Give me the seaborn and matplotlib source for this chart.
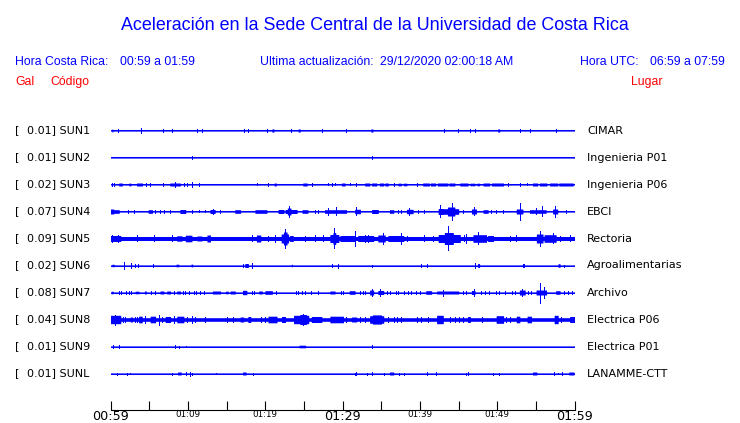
import numpy as np
import pandas as pd
import matplotlib
matplotlib.use("Agg")
import matplotlib.pyplot as plt
import seaborn as sns

# ---------------- data ----------------
codes = ["SUN1", "SUN2", "SUN3", "SUN4", "SUN5", "SUN6", "SUN7", "SUN8", "SUN9", "SUNL"]
gal = ["0.01", "0.01", "0.02", "0.07", "0.09", "0.02", "0.08", "0.04", "0.01", "0.01"]
places = ["CIMAR", "Ingenieria P01", "Ingenieria P06", "EBCI", "Rectoria",
          "Agroalimentarias", "Archivo", "Electrica P06", "Electrica P01", "LANAMME-CTT"]
tick_minutes = [0, 5, 10, 15, 20, 25, 30, 35, 40, 45, 50, 55, 60]
tick_labels = ["00:59", "", "01:09", "", "01:19", "", "01:29", "", "01:39", "", "01:49", "", "01:59"]
big_labels = ["00:59", "01:29", "01:59"]

# background trace amplitude (half-height) per station
base_amp = [0.6, 0.6, 0.6, 0.6, 2.0, 0.6, 0.6, 1.8, 0.6, 0.6]

# bursts: (start minute, end minute, half amplitude)
ev_sun1 = [(0.2,0.3,1.4),(1.0,1.0,1.4),(4.0,4.0,2.6),(6.8,6.8,1.6),(8.0,8.0,1.6),(11.2,11.2,1.6),
           (11.8,11.8,1.2),(17.2,17.2,1.2),(17.8,17.8,1.2),(20.3,20.3,1.4),(20.9,21.1,1.6),(23.4,23.4,1.2),
           (24.3,24.5,1.6),(27.3,27.3,1.6),(30.5,30.5,1.2),(33.7,33.9,1.6),(43.1,43.1,1.6),(44.9,44.9,1.6),
           (46.5,46.5,1.4),(47.1,47.1,1.4),(50.1,50.3,1.6),(52.9,52.9,1.6),(54.3,54.3,1.6),(57.6,57.6,1.6)]
ev_sun2 = [(10.5,10.5,1.6),(33.8,33.8,1.4)]
ev_sun3 = [(0.2,0.2,1.2),(0.5,0.5,1.2),(1.1,1.5,1.5),(2.4,2.6,1.4),(3.4,4.1,1.5),(4.6,4.6,1.2),(5.1,5.1,1.2),
           (6.8,6.8,1.2),(7.7,9.0,1.5),(8.4,8.4,2.8),(9.5,9.5,1.2),(9.9,9.9,1.2),(10.5,10.5,2.2),(11.4,11.4,1.2),
           (18.9,18.9,1.0),(20.4,20.4,1.2),(21.2,21.4,1.5),(24.9,25.4,1.5),(26.0,26.0,1.2),(28.1,28.1,1.0),
           (28.6,28.6,1.2),(29.0,29.0,1.0),(29.9,30.3,1.5),(31.0,31.0,1.0),(31.8,31.8,1.2),(32.9,33.5,1.5),
           (33.8,34.4,1.5),(34.8,35.3,1.5),(35.5,35.9,1.5),(36.6,36.6,1.5),(37.2,37.6,1.3),(37.9,38.3,1.3),
           (39.6,39.6,1.2),(40.4,41.2,1.5),(41.4,42.0,1.5),(42.3,43.6,1.5),(43.8,44.5,1.5),(45.2,46.2,1.5),
           (46.5,47.1,1.3),(47.4,47.7,1.3),(48.2,49.0,1.5),(49.3,50.8,1.5),(51.4,51.4,1.2),(52.9,52.9,1.5),
           (53.8,53.8,1.0),(54.6,55.2,1.5),(55.5,56.4,1.5),(56.8,57.8,1.5),(58.0,59.8,1.5)]
ev_sun4 = [(0.0,0.4,2.5),(0.4,1.1,1.8),(2.2,2.2,1.3),(3.1,3.1,1.3),(4.9,5.4,1.8),(5.7,5.7,1.3),(6.45,6.45,1.3),
           (6.9,6.9,1.3),(7.74,7.74,1.5),(9.0,9.7,2.0),(10.6,10.6,1.2),(11.5,11.5,1.0),(12.25,12.25,1.0),
           (12.9,13.5,2.0),(13.2,13.2,2.8),(14.2,14.2,1.3),(16.1,16.8,1.8),(18.7,20.2,1.8),(21.7,22.4,2.0),
           (22.6,24.1,2.0),(22.9,23.3,3.5),(23.1,23.1,5.8),(24.8,25.5,1.8),(26.4,26.4,1.3),(26.8,26.8,1.3),
           (27.7,29.9,1.8),(28.1,28.1,3.7),(29.2,29.2,4.0),(29.9,30.5,1.8),(31.6,32.3,2.2),(31.8,31.8,4.0),
           (33.8,34.6,2.0),(36.1,36.6,1.8),(37.2,37.2,1.3),(37.6,37.6,1.3),(38.3,39.1,2.2),(38.6,38.6,3.7),
           (39.7,39.7,1.3),(40.6,40.6,1.3),(42.4,43.0,3.0),(42.6,42.6,6.0),(43.0,45.0,2.8),(43.6,44.5,4.5),
           (44.1,44.1,8.3),(45.6,45.6,1.3),(46.7,47.3,2.5),(47.0,47.0,4.0),(48.2,48.8,1.8),(49.2,49.2,1.3),
           (49.9,49.9,1.3),(50.8,50.8,1.3),(52.5,53.3,2.5),(52.9,52.9,8.3),(54.2,56.3,1.8),(55.0,55.0,3.0),
           (55.8,55.8,5.0),(57.2,57.8,2.5),(57.5,57.5,5.7),(58.9,58.9,1.3)]
ev_sun5 = [(0.0,1.3,3.0),(0.2,0.2,3.7),(1.0,1.0,3.7),(3.4,3.4,3.0),(5.6,5.6,3.0),(7.95,7.95,3.0),
           (8.6,9.2,2.7),(9.7,10.5,3.3),(11.2,11.8,2.5),(12.5,12.9,3.5),(18.3,18.3,3.0),(18.9,19.4,3.5),
           (20.4,20.4,2.5),(21.3,21.3,3.5),(22.1,23.0,4.5),(22.4,22.8,6.5),(22.6,22.6,9.3),(23.2,23.6,3.0),
           (25.2,25.2,2.5),(26.4,26.4,3.0),(27.5,27.5,3.0),(28.4,29.5,4.0),(28.8,29.1,6.0),(28.9,28.9,10.0),
           (29.7,31.6,3.0),(31.6,31.6,7.5),(32.0,34.0,3.0),(32.9,32.9,3.8),(33.3,33.3,3.8),(34.6,35.5,3.5),
           (35.3,35.3,5.5),(35.9,37.9,3.0),(37.5,37.5,5.5),(38.3,38.3,2.5),(40.6,40.6,3.0),(41.7,41.7,2.5),
           (42.4,43.2,4.0),(43.2,44.3,6.0),(43.7,43.7,12.0),(44.3,45.2,4.0),(45.7,45.7,3.0),(46.0,46.0,4.5),
           (46.9,48.6,3.8),(47.5,47.5,6.0),(48.8,49.5,3.0),(51.6,51.6,2.5),(52.4,52.4,3.0),(55.1,55.9,4.5),
           (55.6,55.6,7.5),(56.1,57.6,3.8),(57.2,57.2,5.0),(58.1,58.1,2.5),(59.4,59.4,3.0)]
ev_sun6 = [(0.2,0.45,1.2),(1.7,1.7,3.3),(2.6,2.6,2.5),(3.2,3.2,1.5),(3.5,3.5,1.2),(5.5,5.5,1.2),
           (8.5,8.8,1.3),(10.45,10.6,1.4),(17.1,17.1,1.3),(17.4,17.8,2.0),(18.3,18.3,2.8),(23.4,23.5,1.2),
           (28.6,28.6,1.5),(29.4,29.4,2.0),(33.8,33.8,1.0),(40.1,40.1,1.3),(40.9,40.9,1.3),(47.1,47.1,2.5),
           (47.5,47.7,2.0),(53.3,53.5,2.0),(57.9,58.1,1.8),(58.6,58.6,1.0)]
ev_sun7 = [(0.13,0.3,1.3),(1.08,1.08,1.3),(1.42,1.42,1.3),(2.06,2.06,1.3),(2.37,2.37,1.3),(2.71,2.71,1.3),
           (3.23,3.66,1.3),(4.43,4.6,1.5),(5.25,5.25,1.3),(5.8,5.8,1.3),(6.45,6.88,1.5),(7.31,7.74,1.5),
           (8.17,8.17,1.3),(8.6,9.03,1.5),(9.38,9.38,1.3),(9.68,9.68,1.3),(10.1,10.1,1.3),(10.75,10.75,1.3),
           (11.05,11.05,1.3),(11.6,11.6,1.3),(12.1,12.1,1.3),(13.2,14.2,1.5),(14.9,15.2,1.3),(15.5,16.1,1.5),
           (17.1,17.6,2.2),(18.3,18.3,1.3),(18.6,18.6,1.3),(19.2,19.6,1.5),(20.0,20.9,1.8),(21.4,21.4,1.3),
           (24.0,24.0,1.3),(24.3,24.3,1.3),(24.8,24.8,1.3),(25.2,25.2,1.3),(25.9,25.9,1.3),(26.8,26.8,1.3),
           (28.4,29.0,1.5),(29.8,29.8,1.3),(30.1,30.1,1.3),(30.9,31.6,1.8),(32.3,32.3,1.3),(32.7,32.7,1.3),
           (32.9,32.9,1.3),(33.55,34.0,2.5),(33.8,33.8,3.5),(34.6,35.3,2.0),(34.9,34.9,3.5),(35.7,35.7,1.3),
           (36.1,36.1,1.3),(36.9,36.9,1.3),(37.2,37.2,1.3),(37.9,37.9,1.3),(38.5,38.5,1.3),(38.9,38.9,1.3),
           (39.5,39.5,1.3),(40.0,40.0,1.3),(40.8,41.5,1.8),(42.2,45.0,1.5),(43.0,43.0,3.0),(45.6,45.6,1.3),
           (46.0,46.0,1.3),(46.7,47.1,2.0),(47.0,47.0,3.3),(47.96,47.96,1.3),(48.4,48.4,1.3),(49.0,49.0,1.3),
           (49.9,49.9,1.3),(50.3,50.3,1.3),(51.0,51.0,1.3),(51.96,51.96,1.3),(52.3,52.3,1.3),(52.9,53.6,2.5),
           (53.25,53.25,3.5),(54.0,54.0,1.3),(54.4,54.4,1.3),(55.06,55.7,2.5),(55.5,55.5,10.0),(55.7,56.35,2.5),
           (56.1,56.1,5.8),(57.6,58.1,1.8),(58.6,58.6,1.3),(59.2,59.2,1.3),(59.7,59.7,1.3)]
ev_sun8 = [(0.0,1.29,4.2),(0.64,0.64,5.0),(1.59,1.59,2.5),(1.85,1.85,2.5),(2.58,2.8,2.5),(3.14,3.14,2.3),
           (3.44,3.44,2.3),(3.66,4.08,3.3),(4.43,4.43,3.3),(5.16,5.8,3.3),(6.24,6.24,5.0),(6.67,6.67,2.5),
           (7.1,7.74,3.0),(8.17,8.17,3.3),(8.6,9.46,3.3),(9.9,9.9,2.5),(10.5,10.5,3.3),(10.97,10.97,2.5),
           (12.26,12.26,2.3),(15.05,15.05,2.3),(15.9,15.9,2.3),(16.8,17.2,2.5),(17.8,18.1,3.0),(19.4,19.4,2.3),
           (20.0,20.0,2.5),(20.4,21.5,3.3),(22.15,22.6,3.0),(23.7,25.6,4.2),(24.5,25.3,5.0),(24.95,24.95,5.8),
           (26.0,27.3,3.0),(28.4,29.9,3.3),(29.7,30.1,3.3),(30.5,30.5,2.5),(31.2,31.8,2.5),(32.3,32.3,2.5),
           (32.9,32.9,2.5),(33.55,35.3,3.8),(33.9,35.0,4.6),(35.9,35.9,2.5),(36.6,36.6,2.5),(37.0,37.0,2.5),
           (37.6,37.6,2.5),(39.6,39.6,2.5),(40.2,40.2,2.5),(41.1,41.1,2.5),(42.2,43.0,4.2),(43.9,43.9,2.5),
           (44.5,44.5,2.5),(45.0,45.0,2.5),(45.6,45.6,2.5),(46.2,46.5,3.0),(48.0,48.0,2.3),(49.9,50.8,3.8),
           (51.2,51.2,2.5),(51.6,51.6,2.5),(52.5,52.9,3.3),(53.9,54.4,3.3),(57.4,57.85,4.2),(58.3,58.3,2.5),
           (59.4,60.0,3.0)]
ev_sun9 = [(0.3,0.3,1.3),(1.1,1.1,1.6),(8.4,8.4,1.6),(8.8,8.8,1.0),(9.8,9.8,0.9),(24.4,25.2,1.3),(33.8,33.8,1.6)]
ev_sunl = [(0.9,0.9,1.0),(2.1,2.1,1.0),(2.5,2.5,0.9),(7.95,7.95,1.0),(8.7,9.1,1.5),(9.7,9.7,1.5),
           (10.3,10.3,2.0),(10.6,10.6,1.0),(13.7,13.7,0.9),(17.1,17.5,1.5),(18.4,18.4,1.0),(31.6,31.6,1.0),
           (31.8,31.8,1.5),(33.2,33.2,1.0),(33.8,33.8,1.5),(35.4,35.4,1.0),(36.1,36.6,1.5),(37.3,37.3,1.0),
           (37.9,37.9,1.0),(40.9,40.9,1.3),(42.1,42.1,1.3),(46.0,46.0,1.0),(46.2,46.2,1.3),(49.5,49.5,1.0),
           (50.2,50.2,1.0),(54.6,55.1,1.5),(57.4,57.4,1.3),(57.9,57.9,0.9),(58.4,58.4,1.5),(59.3,59.9,1.5)]
events = [ev_sun1, ev_sun2, ev_sun3, ev_sun4, ev_sun5, ev_sun6, ev_sun7, ev_sun8, ev_sun9, ev_sunl]

# ---------------- figure ----------------
sns.set_style("white")
plt.rcParams["font.family"] = ["DejaVu Sans"]
BLUE = "#0000FF"
RED = "#FF0000"
W, H = 740, 423
fig = plt.figure(figsize=(W / 100, H / 100), dpi=100)
fig.patch.set_facecolor("white")


def fx(x):
    return x / W


def fy(y):
    return 1 - y / H


ax = fig.add_axes([110.5 / W, 13.5 / H, 464 / W, 291 / H])
ax.set_xlim(0, 60)
ax.set_ylim(0, 291)
ax.set_facecolor("white")

centers = [279 - 27 * i for i in range(len(codes))]

# center lines with seaborn
rows = []
for c, yc in zip(codes, centers):
    rows.append({"t": 0.0, "y": yc, "code": c})
    rows.append({"t": 60.0, "y": yc, "code": c})
df = pd.DataFrame(rows)
sns.lineplot(data=df, x="t", y="y", units="code", estimator=None, color=BLUE,
             linewidth=0.75, ax=ax, legend=False)

# trace envelopes (bursts) and single spikes
t = np.arange(0, 60.0001, 0.02)
for yc, base, ev in zip(centers, base_amp, events):
    env = np.full_like(t, base)
    for t0, t1, a in ev:
        if t1 > t0:
            m = (t >= t0 - 0.03) & (t <= t1 + 0.03)
            env[m] = np.maximum(env[m], a)
    ax.fill_between(t, yc - env, yc + env, color=BLUE, linewidth=0, antialiased=False)
    sp_t = [e[0] for e in ev if e[1] == e[0]]
    sp_a = np.array([e[2] for e in ev if e[1] == e[0]])
    if sp_t:
        ax.vlines(sp_t, yc - sp_a, yc + sp_a, colors=BLUE, linewidth=0.6,
                  antialiased=False)

# axis styling
for s in ["top", "left", "right"]:
    ax.spines[s].set_visible(False)
ax.spines["bottom"].set_color("black")
ax.spines["bottom"].set_linewidth(0.8)
ax.set_yticks([])
ax.set_xticks(tick_minutes)
ax.set_xticklabels(tick_labels)
ax.tick_params(axis="x", bottom=True, direction="in", length=6.5, width=0.8, pad=0.5,
               colors="black")
for lab in ax.get_xticklabels():
    lab.set_fontsize(9.2 if lab.get_text() in big_labels else 6.3)
ax.set_xlabel("")
ax.set_ylabel("")

# station labels
for i, (c, g, p) in enumerate(zip(codes, gal, places)):
    ypx = 130.5 + 27 * i
    fig.text(fx(15), fy(ypx), "[", fontsize=8, va="center", ha="left", color="black")
    fig.text(fx(27), fy(ypx), f"{g}] {c}", fontsize=8, va="center", ha="left", color="black")
    fig.text(fx(587), fy(ypx), p, fontsize=8, va="center", ha="left", color="black")

# header texts
LS = ["Liberation Sans", "DejaVu Sans"]
fig.text(fx(375), fy(29.5), "Aceleración en la Sede Central de la Universidad de Costa Rica",
         ha="center", va="baseline", fontsize=12.9, color=BLUE, family=LS)
hs = 8.8
fig.text(fx(15), fy(65), "Hora Costa Rica:", ha="left", va="baseline", fontsize=hs, color=BLUE, family=LS)
fig.text(fx(120), fy(65), "00:59 a 01:59", ha="left", va="baseline", fontsize=hs, color=BLUE, family=LS)
fig.text(fx(260.5), fy(65), "Ultima actualización:", ha="left", va="baseline", fontsize=hs, color=BLUE, family=LS)
fig.text(fx(380), fy(65), "29/12/2020 02:00:18 AM", ha="left", va="baseline", fontsize=hs, color=BLUE, family=LS)
fig.text(fx(580.5), fy(65), "Hora UTC:", ha="left", va="baseline", fontsize=hs, color=BLUE, family=LS)
fig.text(fx(650.5), fy(65), "06:59 a 07:59", ha="left", va="baseline", fontsize=hs, color=BLUE, family=LS)
fig.text(fx(15), fy(85), "Gal", ha="left", va="baseline", fontsize=hs, color=RED, family=LS)
fig.text(fx(50), fy(85), "Código", ha="left", va="baseline", fontsize=hs, color=RED, family=LS)
fig.text(fx(630.5), fy(85), "Lugar", ha="left", va="baseline", fontsize=hs, color=RED, family=LS)

fig.savefig("out.png", dpi=100, facecolor="white")
